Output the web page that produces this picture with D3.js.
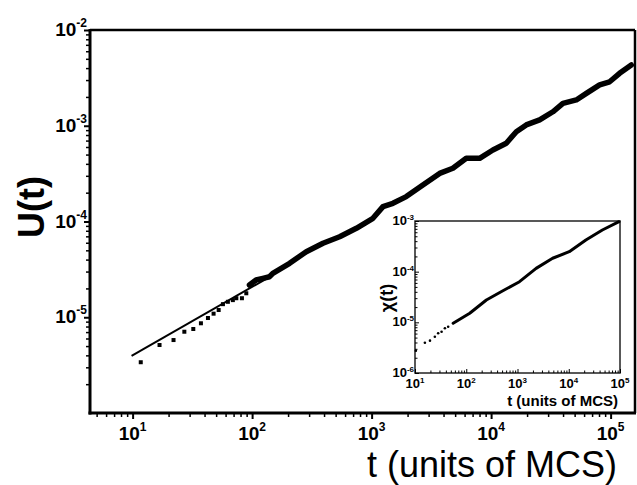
<!DOCTYPE html>
<html>
<head>
<meta charset="utf-8">
<script src="https://cdn.jsdelivr.net/npm/d3@7"></script>
<style>
  body { margin: 0; background: #fff; }
  text { font-family: "Liberation Sans", Arial, sans-serif; fill: #000; }
</style>
</head>
<body>
<div id="chart"></div>
<script>
// ---- main panel data ----
const earlyT = [11.7, 16.8, 22.0, 27.1, 32.2, 37.3, 42.7, 47.6, 52.5, 57.0, 62.7, 69.0, 73.8, 82.2, 89.4];
const earlyU = [3.39e-6, 5.13e-6, 5.78e-6, 7.06e-6, 7.54e-6, 8.65e-6, 9.82e-6, 1.09e-5, 1.19e-5, 1.37e-5, 1.45e-5, 1.51e-5, 1.58e-5, 1.58e-5, 1.78e-5];

const lateT = [95, 108, 123, 140, 149, 206, 284, 392, 540, 745, 1026, 1245, 1507, 1950, 2685, 3707, 4786, 6194, 8017, 10351, 13397, 16255, 19679, 25468, 32885, 39902, 51642, 62661, 80910, 98175, 118850, 148940];
const lateU = [2.17e-5, 2.45e-5, 2.55e-5, 2.65e-5, 2.88e-5, 3.66e-5, 4.84e-5, 5.92e-5, 6.93e-5, 8.49e-5, 1.08e-4, 1.43e-4, 1.55e-4, 1.82e-4, 2.40e-4, 3.18e-4, 3.60e-4, 4.57e-4, 4.57e-4, 5.58e-4, 6.56e-4, 8.67e-4, 1.02e-3, 1.15e-3, 1.40e-3, 1.71e-3, 1.86e-3, 2.18e-3, 2.67e-3, 2.88e-3, 3.53e-3, 4.31e-3];

// power-law fit line (visible part, below the data)
const fitT = [9.8, 150];
const fitU = [3.94e-6, 2.77e-5];

// ---- inset data ----
const insetEarlyT = [10.4, 15.6, 19.6, 24.4, 28.3, 33.0, 38.3, 44.4];
const insetEarlyX = [2.75e-6, 3.96e-6, 4.35e-6, 5.20e-6, 6.07e-6, 6.53e-6, 7.62e-6, 8.20e-6];
const insetLateT = [55.5, 117, 247, 519, 1094, 2307, 4842, 10230, 21580, 45290, 95700];
const insetLateX = [9.57e-6, 1.51e-5, 2.76e-5, 4.2e-5, 6.34e-5, 1.16e-4, 1.84e-4, 2.48e-4, 4.22e-4, 6.64e-4, 9.68e-4];

// ---- tick labels ----
const mainXTicks = [1e1, 1e2, 1e3, 1e4, 1e5];
const mainXExp = ["1", "2", "3", "4", "5"];
const mainYTicks = [1e-2, 1e-3, 1e-4, 1e-5];
const mainYExp = ["-2", "-3", "-4", "-5"];
const insetXTicks = [1e1, 1e2, 1e3, 1e4, 1e5];
const insetXExp = ["1", "2", "3", "4", "5"];
const insetYTicks = [1e-3, 1e-4, 1e-5, 1e-6];
const insetYExp = ["-3", "-4", "-5", "-6"];

const W = 637, H = 485;
const svg = d3.select("#chart").append("svg")
  .attr("width", W).attr("height", H)
  .attr("viewBox", `0 0 ${W} ${H}`);

// scales
const x = d3.scaleLog().domain([4.4, 1.6e5]).range([90, 635]);
const y = d3.scaleLog().domain([1e-6, 1e-2]).range([413, 30]);
const xi = d3.scaleLog().domain([10, 1e5]).range([415, 620]);
const yi = d3.scaleLog().domain([1e-6, 1e-3]).range([373, 221]);

const isDecade = v => Math.abs(Math.log10(v) - Math.round(Math.log10(v))) < 1e-9;

// label "10" with superscript
const powLabel = (sel, exps, size, supSize, rise) => {
  sel.each(function(d, i) {
    const t = d3.select(this);
    t.append("tspan").attr("font-size", size).text("10");
    t.append("tspan").attr("font-size", supSize).attr("dy", -rise).text(exps[i]);
  });
};

// ---- main axes ----
const minorX = x.ticks().filter(v => !isDecade(v));
const minorY = y.ticks().filter(v => !isDecade(v));

svg.append("g").attr("transform", "translate(0,413)")
  .call(d3.axisBottom(x).tickValues(minorX).tickSize(4).tickFormat(""))
  .call(g => g.select(".domain").remove())
  .selectAll("line").attr("stroke-width", 1.5);
svg.append("g").attr("transform", "translate(0,413)")
  .call(d3.axisBottom(x).tickValues(mainXTicks).tickSize(6).tickFormat(""))
  .call(g => g.select(".domain").remove())
  .selectAll("line").attr("stroke-width", 2);

svg.append("g").attr("transform", "translate(90,0)")
  .call(d3.axisLeft(y).tickValues(minorY).tickSize(4).tickFormat(""))
  .call(g => g.select(".domain").remove())
  .selectAll("line").attr("stroke-width", 1.5);
svg.append("g").attr("transform", "translate(90,0)")
  .call(d3.axisLeft(y).tickValues(mainYTicks).tickSize(6).tickFormat(""))
  .call(g => g.select(".domain").remove())
  .selectAll("line").attr("stroke-width", 2);

// frame
const frame = svg.append("g").attr("stroke", "#000").attr("fill", "none");
frame.append("line").attr("x1", 90).attr("x2", 635).attr("y1", 30).attr("y2", 30).attr("stroke-width", 2.5);
frame.append("line").attr("x1", 635).attr("x2", 635).attr("y1", 30).attr("y2", 413).attr("stroke-width", 2.5);
frame.append("line").attr("x1", 90).attr("x2", 90).attr("y1", 29).attr("y2", 414.5).attr("stroke-width", 3);
frame.append("line").attr("x1", 88.5).attr("x2", 636).attr("y1", 413).attr("y2", 413).attr("stroke-width", 3);

// main tick labels
svg.append("g").selectAll("text").data(mainXTicks).join("text")
  .attr("x", d => x(d)).attr("y", 440).attr("text-anchor", "middle").attr("font-weight", "bold")
  .call(powLabel, mainXExp, 19, 12, 9);
svg.append("g").selectAll("text").data(mainYTicks).join("text")
  .attr("x", 87).attr("y", d => y(d) + 6).attr("text-anchor", "end").attr("font-weight", "bold")
  .call(powLabel, mainYExp, 19, 12, 9);

// axis titles
svg.append("text").attr("x", 617).attr("y", 477).attr("text-anchor", "end")
  .attr("font-size", 36).text("t (units of MCS)");
svg.append("text").attr("transform", "translate(44,207) rotate(-90)")
  .attr("text-anchor", "middle").attr("font-size", 36).attr("font-weight", "bold")
  .text("U(t)");

// ---- main data ----
svg.append("path")
  .datum(fitT.map((t, i) => [t, fitU[i]]))
  .attr("fill", "none").attr("stroke", "#000").attr("stroke-width", 2)
  .attr("d", d3.line().x(d => x(d[0])).y(d => y(d[1])));

svg.append("g").selectAll("rect").data(earlyT.map((t, i) => [t, earlyU[i]])).join("rect")
  .attr("x", d => x(d[0]) - 2).attr("y", d => y(d[1]) - 2)
  .attr("width", 4).attr("height", 4).attr("fill", "#000");

svg.append("path")
  .datum(lateT.map((t, i) => [t, lateU[i]]))
  .attr("fill", "none").attr("stroke", "#000").attr("stroke-width", 5.5)
  .attr("stroke-linejoin", "round").attr("stroke-linecap", "round")
  .attr("d", d3.line().x(d => x(d[0])).y(d => y(d[1])));

// ---- inset ----
const inset = svg.append("g");
inset.append("rect").attr("x", 415).attr("y", 221).attr("width", 205).attr("height", 152)
  .attr("fill", "#fff").attr("stroke", "#222").attr("stroke-width", 1.5);

const minorXi = xi.ticks().filter(v => !isDecade(v));
const minorYi = yi.ticks().filter(v => !isDecade(v));

inset.append("g").attr("transform", "translate(0,373)")
  .call(d3.axisBottom(xi).tickValues(minorXi).tickSize(-2.5).tickFormat(""))
  .call(g => g.select(".domain").remove());
inset.append("g").attr("transform", "translate(0,373)")
  .call(d3.axisBottom(xi).tickValues(insetXTicks).tickSize(-4).tickFormat(""))
  .call(g => g.select(".domain").remove());
inset.append("g").attr("transform", "translate(415,0)")
  .call(d3.axisLeft(yi).tickValues(minorYi).tickSize(-2.5).tickFormat(""))
  .call(g => g.select(".domain").remove());
inset.append("g").attr("transform", "translate(415,0)")
  .call(d3.axisLeft(yi).tickValues(insetYTicks).tickSize(-4).tickFormat(""))
  .call(g => g.select(".domain").remove());

inset.append("g").selectAll("text").data(insetXTicks).join("text")
  .attr("x", d => xi(d)).attr("y", 388).attr("text-anchor", "middle").attr("font-weight", "bold")
  .call(powLabel, insetXExp, 13, 8, 5);
inset.append("g").selectAll("text").data(insetYTicks).join("text")
  .attr("x", 414).attr("y", d => yi(d) + 4).attr("text-anchor", "end").attr("font-weight", "bold")
  .call(powLabel, insetYExp, 13, 8, 5);

inset.append("text").attr("x", 618).attr("y", 406).attr("text-anchor", "end")
  .attr("font-size", 15).attr("font-weight", "bold").text("t (units of MCS)");
inset.append("text").attr("transform", "translate(393,298) rotate(-90)")
  .attr("text-anchor", "middle").attr("font-size", 18).attr("font-weight", "bold")
  .text("χ(t)");

inset.append("g").selectAll("circle").data(insetEarlyT.map((t, i) => [t, insetEarlyX[i]])).join("circle")
  .attr("cx", d => xi(d[0])).attr("cy", d => yi(d[1])).attr("r", 1.3).attr("fill", "#000");

inset.append("path")
  .datum(insetLateT.map((t, i) => [t, insetLateX[i]]))
  .attr("fill", "none").attr("stroke", "#000").attr("stroke-width", 3)
  .attr("stroke-linejoin", "round").attr("stroke-linecap", "round")
  .attr("d", d3.line().x(d => xi(d[0])).y(d => yi(d[1])));
</script>
</body>
</html>
